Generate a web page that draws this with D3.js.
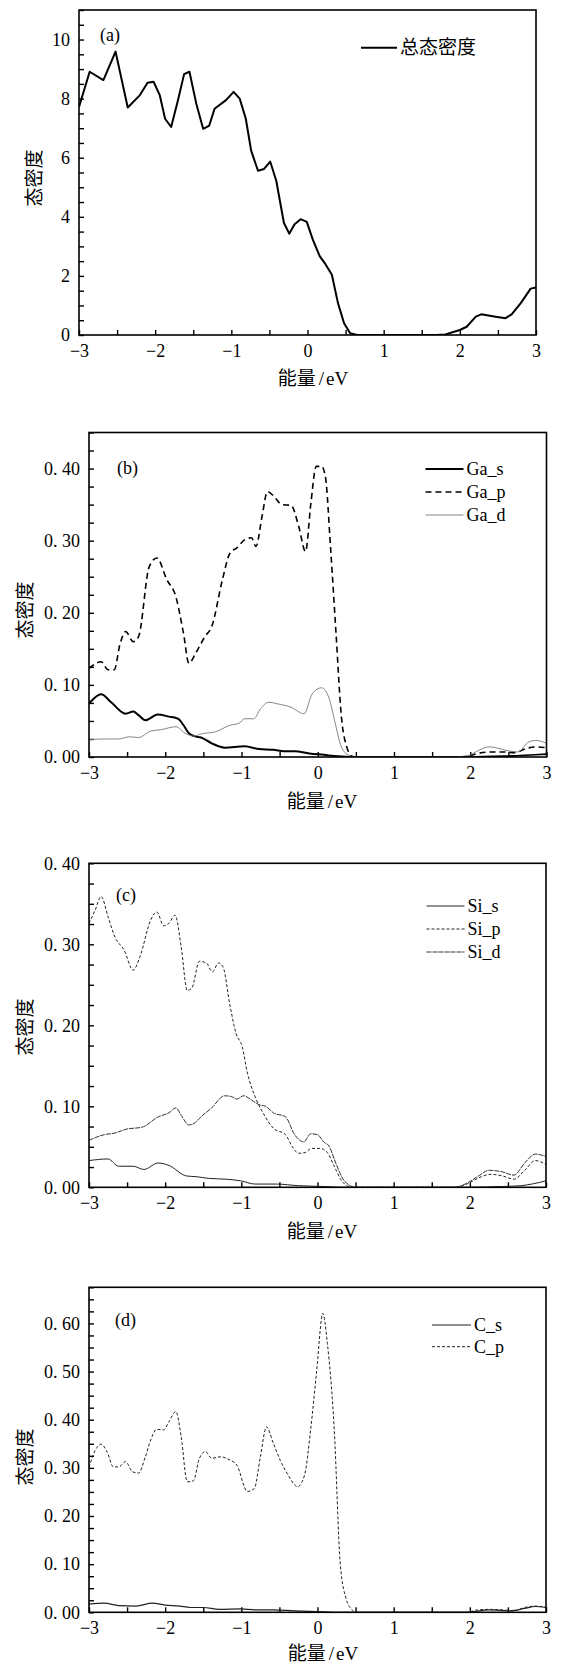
<!DOCTYPE html>
<html>
<head>
<meta charset="utf-8">
<script src="https://cdn.jsdelivr.net/npm/d3@7"></script>
<style>
body { margin: 0; background: #fff; }
text { font-family: "Liberation Serif", "Noto Sans CJK SC", serif; fill: #000; }
.cjk { font-family: "Noto Sans CJK SC", sans-serif; }
</style>
</head>
<body>
<svg id="chart" width="563" height="1667"></svg>
<script>
// energies in eV, densities of states
var totalDos = [[-3.00,7.72],[-2.86,8.91],[-2.68,8.63],[-2.52,9.59],[-2.36,7.70],[-2.20,8.12],[-2.10,8.54],[-2.02,8.57],[-1.94,8.12],[-1.87,7.32],[-1.79,7.04],[-1.70,7.95],[-1.62,8.83],[-1.55,8.91],[-1.46,7.83],[-1.37,6.98],[-1.29,7.09],[-1.22,7.66],[-1.07,7.95],[-0.97,8.23],[-0.89,8.00],[-0.81,7.32],[-0.74,6.24],[-0.65,5.56],[-0.57,5.62],[-0.49,5.87],[-0.41,5.22],[-0.31,3.80],[-0.24,3.43],[-0.17,3.75],[-0.09,3.92],[-0.01,3.83],[0.07,3.23],[0.16,2.67],[0.24,2.38],[0.32,2.04],[0.40,1.08],[0.48,0.40],[0.56,0.06],[0.65,0],[1.69,0],[1.81,0.02],[2.00,0.17],[2.09,0.28],[2.21,0.62],[2.28,0.70],[2.47,0.62],[2.60,0.57],[2.68,0.70],[2.80,1.08],[2.93,1.57],[3.00,1.61]];

var gaS = [[-3.00,0.074],[-2.84,0.087],[-2.71,0.076],[-2.52,0.060],[-2.42,0.063],[-2.35,0.058],[-2.26,0.051],[-2.10,0.059],[-1.95,0.056],[-1.83,0.053],[-1.76,0.044],[-1.69,0.033],[-1.62,0.029],[-1.53,0.027],[-1.39,0.019],[-1.22,0.013],[-0.96,0.015],[-0.77,0.011],[-0.58,0.010],[-0.44,0.008],[-0.30,0.008],[-0.11,0.005],[0.08,0.003],[0.26,0.001],[0.45,0],[1.96,0],[2.43,0.001],[3.00,0.004]];
var gaP = [[-3.00,0.123],[-2.84,0.132],[-2.75,0.121],[-2.67,0.121],[-2.59,0.158],[-2.52,0.174],[-2.42,0.160],[-2.35,0.167],[-2.21,0.264],[-2.11,0.276],[-1.98,0.246],[-1.86,0.222],[-1.76,0.171],[-1.69,0.130],[-1.60,0.144],[-1.48,0.167],[-1.39,0.181],[-1.25,0.246],[-1.15,0.283],[-1.06,0.290],[-0.96,0.301],[-0.87,0.304],[-0.81,0.292],[-0.73,0.334],[-0.66,0.368],[-0.58,0.362],[-0.47,0.350],[-0.35,0.349],[-0.25,0.320],[-0.16,0.285],[-0.09,0.352],[-0.02,0.403],[0.05,0.403],[0.10,0.389],[0.17,0.287],[0.24,0.171],[0.31,0.056],[0.38,0.014],[0.45,0.001],[0.50,0],[1.92,0],[2.10,0.005],[2.29,0.007],[2.43,0.007],[2.58,0.006],[2.74,0.012],[2.86,0.014],[3.00,0.013]];
var gaD = [[-3.00,0.024],[-2.80,0.025],[-2.61,0.025],[-2.47,0.028],[-2.35,0.027],[-2.19,0.036],[-2.05,0.038],[-1.86,0.042],[-1.74,0.033],[-1.62,0.029],[-1.53,0.032],[-1.34,0.035],[-1.15,0.044],[-1.03,0.047],[-0.96,0.053],[-0.84,0.053],[-0.75,0.067],[-0.64,0.076],[-0.54,0.074],[-0.35,0.069],[-0.18,0.060],[-0.07,0.088],[0.05,0.096],[0.15,0.081],[0.22,0.051],[0.31,0.014],[0.41,0.002],[0.45,0],[1.80,0],[1.96,0.002],[2.25,0.014],[2.53,0.008],[2.62,0.007],[2.77,0.021],[2.86,0.023],[3.00,0.019]];

var siS = [[-3.00,0.033],[-2.75,0.035],[-2.61,0.026],[-2.42,0.026],[-2.28,0.022],[-2.09,0.030],[-1.95,0.027],[-1.72,0.014],[-1.58,0.013],[-1.43,0.011],[-1.20,0.010],[-1.01,0.008],[-0.82,0.004],[-0.54,0.004],[-0.25,0.002],[0.08,0.001],[0.31,0],[1.96,0],[2.43,0.001],[2.67,0.002],[3.00,0.008]];
var siP = [[-3.00,0.326],[-2.92,0.342],[-2.84,0.359],[-2.75,0.334],[-2.66,0.309],[-2.54,0.293],[-2.42,0.268],[-2.33,0.285],[-2.19,0.330],[-2.11,0.340],[-2.02,0.323],[-1.95,0.326],[-1.87,0.336],[-1.79,0.297],[-1.71,0.243],[-1.65,0.246],[-1.55,0.279],[-1.46,0.277],[-1.38,0.266],[-1.30,0.277],[-1.24,0.272],[-1.15,0.225],[-1.07,0.190],[-0.99,0.174],[-0.92,0.141],[-0.82,0.112],[-0.71,0.091],[-0.58,0.073],[-0.42,0.065],[-0.33,0.050],[-0.25,0.042],[-0.16,0.043],[-0.08,0.048],[0.03,0.048],[0.12,0.044],[0.22,0.026],[0.31,0.009],[0.41,0.001],[0.48,0],[1.82,0],[1.96,0.004],[2.15,0.013],[2.27,0.016],[2.43,0.014],[2.58,0.010],[2.72,0.021],[2.86,0.033],[3.00,0.028]];
var siD = [[-3.00,0.058],[-2.80,0.065],[-2.66,0.067],[-2.50,0.072],[-2.31,0.074],[-2.09,0.087],[-1.95,0.092],[-1.86,0.098],[-1.79,0.089],[-1.69,0.077],[-1.62,0.079],[-1.53,0.087],[-1.39,0.098],[-1.22,0.113],[-1.13,0.112],[-1.06,0.109],[-0.97,0.113],[-0.87,0.108],[-0.77,0.102],[-0.68,0.100],[-0.58,0.092],[-0.42,0.087],[-0.30,0.065],[-0.18,0.056],[-0.09,0.066],[0.00,0.065],[0.08,0.056],[0.15,0.051],[0.24,0.030],[0.33,0.011],[0.43,0.002],[0.50,0],[1.80,0],[1.96,0.005],[2.13,0.015],[2.25,0.021],[2.43,0.019],[2.58,0.015],[2.72,0.030],[2.86,0.041],[3.00,0.038]];

var cS = [[-3.00,0.017],[-2.80,0.019],[-2.61,0.014],[-2.38,0.013],[-2.17,0.019],[-2.00,0.015],[-1.81,0.013],[-1.67,0.010],[-1.50,0.010],[-1.29,0.006],[-1.01,0.007],[-0.82,0.005],[-0.58,0.005],[-0.30,0.003],[0.08,0.001],[0.31,0],[1.96,0],[2.25,0.005],[2.53,0.003],[2.72,0.008],[2.86,0.012],[3.00,0.010]];
var cP = [[-3.00,0.301],[-2.92,0.336],[-2.84,0.349],[-2.76,0.332],[-2.68,0.302],[-2.61,0.302],[-2.52,0.313],[-2.43,0.292],[-2.35,0.289],[-2.26,0.323],[-2.19,0.358],[-2.11,0.380],[-2.02,0.379],[-1.95,0.396],[-1.86,0.417],[-1.79,0.365],[-1.71,0.271],[-1.63,0.273],[-1.55,0.320],[-1.47,0.334],[-1.39,0.320],[-1.27,0.323],[-1.15,0.316],[-1.06,0.306],[-0.92,0.251],[-0.83,0.257],[-0.75,0.323],[-0.67,0.385],[-0.58,0.351],[-0.49,0.316],[-0.40,0.289],[-0.26,0.261],[-0.17,0.285],[-0.09,0.379],[-0.01,0.503],[0.07,0.621],[0.13,0.558],[0.22,0.379],[0.30,0.098],[0.38,0.026],[0.45,0.006],[0.50,0],[1.96,0],[2.10,0.005],[2.25,0.006],[2.43,0.005],[2.58,0.003],[2.72,0.010],[2.86,0.013],[3.00,0.010]];

var energyTicks = [-3, -2, -1, 0, 1, 2, 3];
var totalTicks = [0, 2, 4, 6, 8, 10];
var gaTicks = [0, 0.1, 0.2, 0.3, 0.4];
var siTicks = [0, 0.1, 0.2, 0.3, 0.4];
var cTicks = [0, 0.1, 0.2, 0.3, 0.4, 0.5, 0.6];

var svg = d3.select("#chart");

var panels = [
	{ tag: "(a)", left: 79, right: 536, top: 10, bottom: 335, yMax: 11, yStep: 0.5, yTicks: totalTicks, fmt: d3.format("d"),
		tagX: 100, tagY: 41, yTitle: [32, 178], xTitle: [313, 385], curve: d3.curveLinear,
		legend: { x: 361, y: 47.7, gap: 23, len: 36 },
		series: [ { name: "总态密度", data: totalDos, color: "#000", width: 2 } ] },
	{ tag: "(b)", left: 89, right: 546.5, top: 432.5, bottom: 757, yMax: 0.45, yStep: 0.025, yTicks: gaTicks,
		tagX: 117, tagY: 474, yTitle: [23, 610], xTitle: [322, 808], curve: d3.curveMonotoneX,
		legend: { x: 425.5, y: 469, gap: 23, len: 38 },
		series: [
			{ name: "Ga_s", data: gaS, color: "#000", width: 2 },
			{ name: "Ga_p", data: gaP, color: "#000", width: 1.6, dash: "6,4" },
			{ name: "Ga_d", data: gaD, color: "#777", width: 0.9 } ] },
	{ tag: "(c)", left: 89, right: 546, top: 863.3, bottom: 1187.3, yMax: 0.40, yStep: 0.025, yTicks: siTicks,
		tagX: 116, tagY: 901, yTitle: [23, 1027], xTitle: [322, 1238], curve: d3.curveMonotoneX,
		legend: { x: 426.5, y: 906, gap: 23, len: 38 },
		series: [
			{ name: "Si_s", data: siS, color: "#222", width: 1 },
			{ name: "Si_p", data: siP, color: "#222", width: 1, dash: "3,2" },
			{ name: "Si_d", data: siD, color: "#333", width: 1, dash: "5,1" } ] },
	{ tag: "(d)", left: 89, right: 546, top: 1287.3, bottom: 1612.3, yMax: 0.675, yStep: 0.025, yTicks: cTicks,
		tagX: 115, tagY: 1326, yTitle: [23, 1457], xTitle: [323, 1660], curve: d3.curveMonotoneX,
		legend: { x: 432, y: 1325, gap: 21.7, len: 39 },
		series: [
			{ name: "C_s", data: cS, color: "#222", width: 1.2 },
			{ name: "C_p", data: cP, color: "#222", width: 1, dash: "3,2" } ] }
];

var dosFmt = function (d) { return d3.format(".2f")(d).replace(".", ". "); };

panels.forEach(function (p, i) {
	var x = d3.scaleLinear().domain([-3, 3]).range([p.left, p.right]);
	var y = d3.scaleLinear().domain([0, p.yMax]).range([p.bottom, p.top]);
	var fmt = p.fmt || dosFmt;
	var g = svg.append("g");

	var clipId = "clip" + i;
	g.append("clipPath").attr("id", clipId).append("rect")
		.attr("x", p.left).attr("y", p.top)
		.attr("width", p.right - p.left).attr("height", p.bottom - p.top);

	// minor ticks every half eV, labels on whole numbers
	var xAxis = d3.axisBottom(x)
		.tickValues(d3.range(-3, 3.001, 0.5))
		.tickSize(-5).tickPadding(9)
		.tickFormat(function (d) { return energyTicks.indexOf(d) >= 0 ? d3.format("d")(d) : ""; });
	var ax = g.append("g").attr("transform", "translate(0," + p.bottom + ")").call(xAxis);

	var yVals = d3.range(0, p.yMax + 1e-9, p.yStep).map(function (v) { return +v.toFixed(4); });
	var yAxis = d3.axisLeft(y)
		.tickValues(yVals)
		.tickSize(-5).tickPadding(9)
		.tickFormat(function (d) {
			var hit = p.yTicks.some(function (t) { return Math.abs(t - d) < 1e-6; });
			return hit ? fmt(d) : "";
		});
	var ay = g.append("g").attr("transform", "translate(" + p.left + ",0)").call(yAxis);

	[ax, ay].forEach(function (a) {
		a.select(".domain").remove();
		a.selectAll(".tick line").attr("stroke", "#000").attr("stroke-width", 1.4);
		a.selectAll(".tick text").attr("font-size", 18).attr("fill", "#000")
			.style("font-family", "'Liberation Serif', serif");
	});

	var line = d3.line()
		.x(function (d) { return x(d[0]); })
		.y(function (d) { return y(d[1]); })
		.curve(p.curve);

	g.append("g").attr("clip-path", "url(#" + clipId + ")")
		.selectAll("path")
		.data(p.series)
		.enter().append("path")
		.attr("d", function (s) { return line(s.data); })
		.attr("fill", "none")
		.attr("stroke", function (s) { return s.color; })
		.attr("stroke-width", function (s) { return s.width; })
		.attr("stroke-dasharray", function (s) { return s.dash || null; })
		.attr("stroke-linejoin", "round");

	// frame
	g.append("rect")
		.attr("x", p.left).attr("y", p.top)
		.attr("width", p.right - p.left).attr("height", p.bottom - p.top)
		.attr("fill", "none").attr("stroke", "#000").attr("stroke-width", 1.6);

	// legend
	var leg = g.selectAll("g.legend").data(p.series).enter().append("g")
		.attr("transform", function (s, k) { return "translate(" + p.legend.x + "," + (p.legend.y + k * p.legend.gap) + ")"; });
	leg.append("line")
		.attr("x1", 0).attr("x2", p.legend.len)
		.attr("stroke", function (s) { return s.color; })
		.attr("stroke-width", function (s) { return s.width; })
		.attr("stroke-dasharray", function (s) { return s.dash || null; });
	leg.append("text")
		.attr("x", p.legend.len + 3).attr("dy", "0.35em")
		.attr("font-size", i === 0 ? 19 : 18)
		.attr("class", i === 0 ? "cjk" : null)
		.text(function (s) { return s.name; });

	g.append("text").attr("x", p.tagX).attr("y", p.tagY)
		.attr("font-size", 18).text(p.tag);

	g.append("text")
		.attr("class", "cjk")
		.attr("transform", "translate(" + p.yTitle[0] + "," + p.yTitle[1] + ") rotate(-90)")
		.attr("text-anchor", "middle").attr("dominant-baseline", "central")
		.attr("font-size", 19)
		.text("态密度");

	var xt = g.append("text")
		.attr("x", p.xTitle[0]).attr("y", p.xTitle[1])
		.attr("text-anchor", "middle").attr("font-size", 19);
	xt.append("tspan").attr("class", "cjk").text("能量");
	xt.append("tspan").attr("dx", 3).text("/");
	xt.append("tspan").attr("dx", 2).text("eV");
});
</script>
</body>
</html>
